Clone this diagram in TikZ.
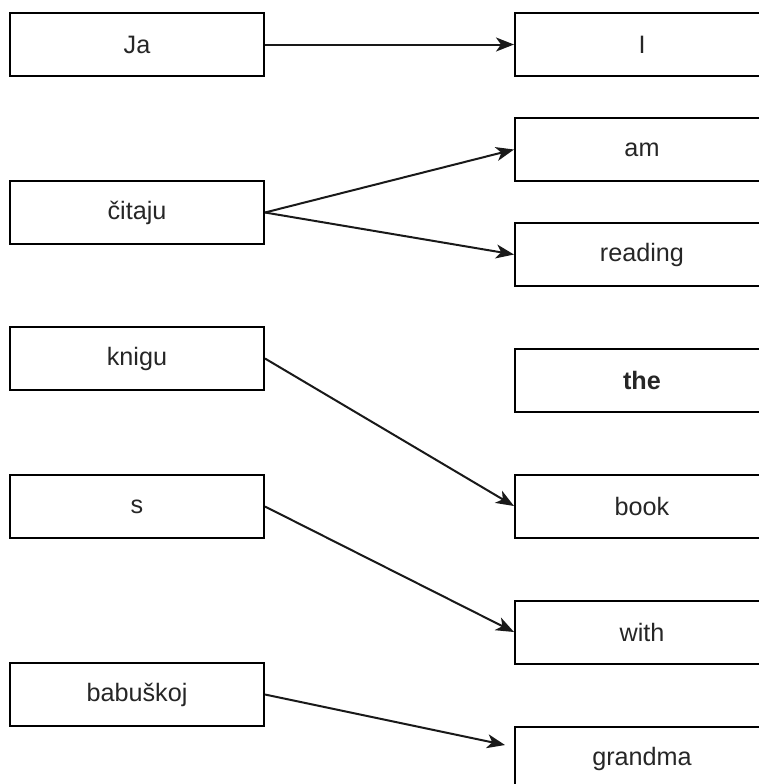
\documentclass[tikz,border=0pt]{standalone}
\usepackage{fontspec}
\setmainfont{Liberation Sans}
\usetikzlibrary{arrows.meta, positioning}

\begin{document}
\begin{tikzpicture}[
    x=0.5pt, y=-0.5pt,
    >={Stealth[length=9pt, width=7pt, inset=2.5pt]},
    srcword/.style={draw, rectangle, line width=1pt, minimum width=127pt, minimum height=31.5pt, inner sep=0pt, text=black!85, font=\fontsize{12.6}{14}\selectfont},
    tgtword/.style={srcword},
    link/.style={->, line width=1pt, black!90}
]
\useasboundingbox (0,0) rectangle (759,784);

% Source Nodes
\node[srcword] (ja) at (137,44.5) {Ja};
\node[srcword] (citaju) at (137,212.5) {čitaju};
\node[srcword] (knigu) at (137,358.5) {knigu};
\node[srcword] (s) at (137,506.5) {s};
\node[srcword] (babuskoj) at (137,694.5) {babuškoj};

% Target Nodes
\node[tgtword] (i) at (642,44.5) {I};
\node[tgtword] (am) at (642,149.5) {am};
\node[tgtword] (reading) at (642,254.5) {reading};
\node[tgtword] (the) at (642,380) {\bfseries the};
\node[tgtword] (book) at (642,506) {book};
\node[tgtword] (with) at (642,632) {with};
\node[tgtword] (grandma) at (642,758.5) {grandma};
\coordinate (gmend) at (505,745);

% Alignment Edges
\draw[link] (ja.east) -- (i.west);
\draw[link] (citaju.east) -- (am.west);
\draw[link] (citaju.east) -- (reading.west);
\draw[link] (knigu.east) -- (book.west);
\draw[link] (s.east) -- (with.west);
\draw[link] (babuskoj.east) -- (gmend);

\end{tikzpicture}
\end{document}
